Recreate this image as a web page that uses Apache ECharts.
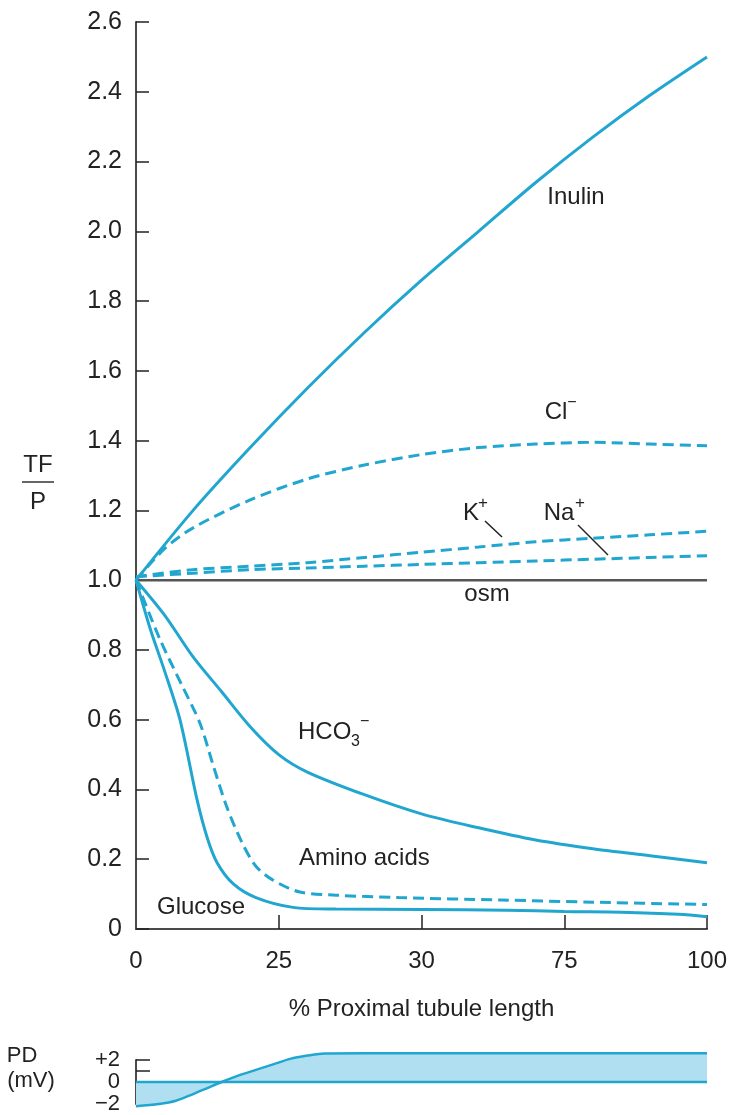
<!DOCTYPE html>
<html><head><meta charset="utf-8">
<script src="https://cdn.jsdelivr.net/npm/echarts@6/dist/echarts.min.js"></script>
<style>html,body{margin:0;padding:0;background:#fff}#c{width:732px;height:1115px}</style>
</head><body><div id="c"></div>
<script>
// ---- data ----
const xTickValues = [0, 25, 50, 75, 100];
const xTickLabels = ['0', '25', '30', '75', '100'];
const pdTickLabels = {'2': '+2', '0': '0', '-2': '\u22122'};

const inulin = [[0,1.0],[10,1.2],[20,1.38],[30,1.55],[40,1.71],[50,1.86],[60,2.0],[70,2.14],[80,2.27],[90,2.39],[100,2.5]];
const chloride = [[0,1.0],[5,1.09],[10,1.15],[20,1.23],[30,1.29],[40,1.33],[50,1.36],[60,1.38],[70,1.39],[80,1.395],[90,1.39],[100,1.385]];
const potassium = [[0,1.01],[10,1.03],[20,1.04],[30,1.05],[40,1.065],[50,1.08],[60,1.095],[70,1.11],[80,1.12],[90,1.13],[100,1.14]];
const sodium = [[0,1.01],[10,1.02],[20,1.03],[30,1.035],[40,1.04],[50,1.045],[60,1.05],[70,1.055],[80,1.06],[90,1.065],[100,1.07]];
const osm = [[0,1.0],[100,1.0]];
const bicarbonate = [[0,1.0],[5,0.9],[10,0.78],[15,0.68],[20,0.58],[25,0.5],[30,0.45],[40,0.385],[50,0.33],[60,0.29],[70,0.255],[80,0.23],[90,0.21],[100,0.19]];
const aminoAcids = [[0,1.0],[4.2,0.83],[8,0.7],[11.2,0.59],[13.5,0.47],[15.9,0.35],[18.5,0.25],[21,0.18],[24,0.14],[28.7,0.106],[35,0.097],[46,0.09],[64,0.083],[80,0.077],[100,0.07]];
const glucose = [[0,1.0],[2.5,0.86],[5,0.74],[7.7,0.6],[10.7,0.37],[12.5,0.26],[14.2,0.19],[17,0.13],[21,0.09],[27.5,0.062],[35,0.057],[50,0.056],[65,0.054],[75,0.05],[85,0.048],[95,0.042],[100,0.035]];
const pd = [[0,-2.2],[4,-2.0],[7,-1.7],[10,-1.1],[12.5,-0.55],[15,0],[18,0.6],[21,1.1],[24,1.6],[27,2.1],[30,2.4],[33,2.6],[40,2.62],[100,2.62]];
const pdZero = [[0,0],[100,0]];

// ---- style ----
const BLUE = '#21a6cf';
const FONT = '"Liberation Sans", Arial, Helvetica, sans-serif';
const TXT = '#222';
const AX = '#4a4a4a';

const chart = echarts.init(document.getElementById('c'), null, {renderer: 'canvas'});

function lineSeries(data, dashed, extra) {
  return Object.assign({
    type: 'line', data: data, xAxisIndex: 0, yAxisIndex: 0,
    showSymbol: false, smooth: 0.3,
    lineStyle: {color: BLUE, width: 3, type: dashed ? [11, 6] : 'solid'},
    silent: true, z: 3
  }, extra || {});
}

const option = {
  animation: false,
  textStyle: {fontFamily: FONT},
  grid: [
    {left: 136, top: 22, width: 571, height: 907},
    {left: 136, top: 1060, width: 571, height: 46}
  ],
  xAxis: [
    {type: 'value', gridIndex: 0, min: 0, max: 100, interval: 25,
     axisLine: {show: true, lineStyle: {color: AX, width: 2}},
     axisTick: {show: true, inside: true, length: 14, lineStyle: {color: '#222', width: 1.5},
                customValues: xTickValues.slice(1)},
     axisLabel: {show: true, margin: 20, fontSize: 24, color: TXT, fontFamily: FONT,
                 customValues: xTickValues,
                 formatter: v => xTickLabels[xTickValues.indexOf(v)]},
     splitLine: {show: false},
     name: '% Proximal tubule length', nameLocation: 'middle', nameGap: 68,
     nameTextStyle: {fontSize: 24, color: TXT, fontFamily: FONT}},
    {type: 'value', gridIndex: 1, min: 0, max: 100, show: false}
  ],
  yAxis: [
    {type: 'value', gridIndex: 0, min: 0, max: 2.6, interval: 0.2,
     axisLine: {show: true, lineStyle: {color: AX, width: 2}},
     axisTick: {show: true, inside: true, length: 13, lineStyle: {color: '#222', width: 1.5}},
     axisLabel: {fontSize: 25, color: TXT, margin: 14, fontFamily: FONT,
                 formatter: v => v === 0 ? '0' : v.toFixed(1)},
     splitLine: {show: false}},
    {type: 'value', gridIndex: 1, min: -2, max: 2, interval: 1,
     axisLine: {show: true, lineStyle: {color: AX, width: 2}},
     axisTick: {show: true, inside: true, length: 14, lineStyle: {color: '#222', width: 1.5}},
     axisLabel: {fontSize: 22, color: TXT, margin: 16, fontFamily: FONT,
                 formatter: v => pdTickLabels[String(v)] || ''},
     splitLine: {show: false}}
  ],
  series: [
    lineSeries(osm, false, {lineStyle: {color: '#555', width: 2.5}, z: 2, smooth: false}),
    lineSeries(inulin, false),
    lineSeries(chloride, true),
    lineSeries(potassium, true),
    lineSeries(sodium, true),
    lineSeries(bicarbonate, false),
    lineSeries(aminoAcids, true),
    lineSeries(glucose, false),
    {type: 'line', data: pd, xAxisIndex: 1, yAxisIndex: 1, showSymbol: false,
     smooth: 0.3, clip: false, silent: true,
     lineStyle: {color: BLUE, width: 2.5},
     areaStyle: {color: '#afdff0', origin: 0, opacity: 1}, z: 3},
    {type: 'line', data: pdZero, xAxisIndex: 1, yAxisIndex: 1, showSymbol: false,
     clip: false, silent: true, lineStyle: {color: BLUE, width: 2.5}, z: 4}
  ]
};
chart.setOption(option);

// ---- annotations ----
function t(text, x, y, size, align) {
  return {type: 'text', x: x, y: y, silent: true, z: 10,
          style: {text: text, fontSize: size || 24, fill: TXT, fontFamily: FONT,
                  align: align || 'center', verticalAlign: 'middle'}};
}
const graphics = [
  t('TF', 38, 465), {type: 'line', silent: true, shape: {x1: 22, y1: 482, x2: 54, y2: 482}, style: {stroke: '#333', lineWidth: 1.5}},
  t('P', 38, 502),
  t('Inulin', 576, 197),
  t('Cl', 556, 412), t('\u2212', 572, 403, 16),
  t('K', 471, 513), t('+', 483, 503, 17),
  {type: 'line', silent: true, shape: {x1: 485, y1: 521, x2: 502, y2: 537}, style: {stroke: '#222', lineWidth: 1.5}},
  t('Na', 559, 513), t('+', 580, 503, 17),
  {type: 'line', silent: true, shape: {x1: 578, y1: 525, x2: 608, y2: 555}, style: {stroke: '#222', lineWidth: 1.5}},
  t('osm', 487, 594),
  t('HCO', 298, 732, 24, 'left'), t('3', 351, 742, 16, 'left'), t('\u2212', 360, 722, 16, 'left'),
  t('Amino acids', 299, 858, 24, 'left'),
  t('Glucose', 157, 907, 24, 'left'),
  t('PD', 22, 1056, 22), t('(mV)', 31, 1081, 22)
];
chart.setOption({graphic: graphics});
</script>
</body></html>
